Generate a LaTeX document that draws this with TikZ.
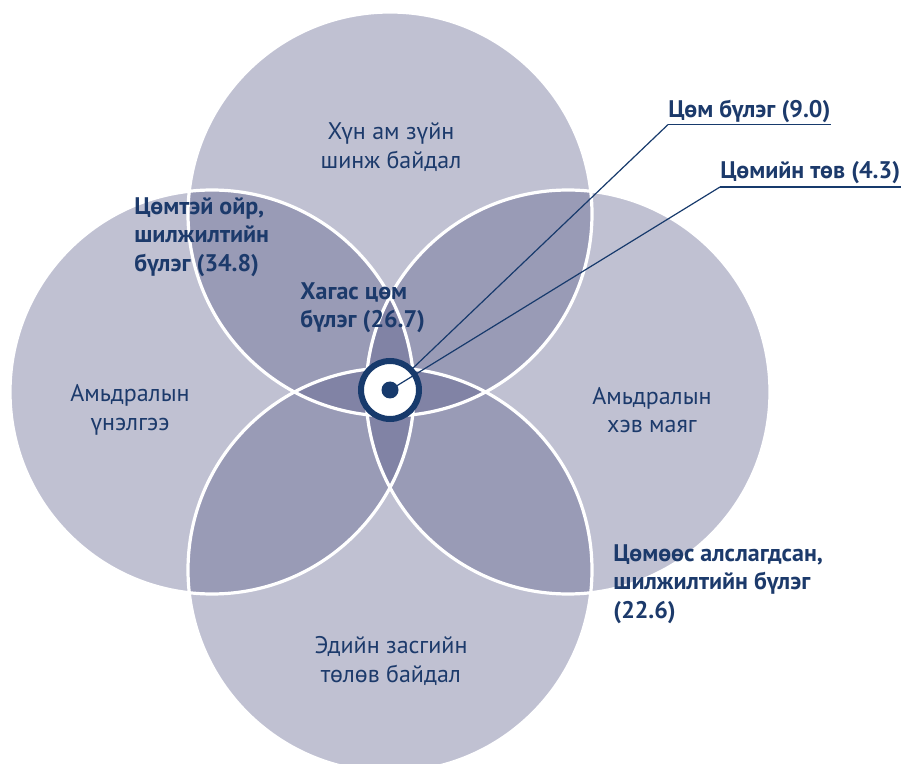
\documentclass[tikz,border=0pt]{standalone}
\usepackage{fontspec}
\setmainfont{PT Sans}
\usetikzlibrary{positioning}
\definecolor{SetFill}{HTML}{595C89}
\definecolor{NavyText}{HTML}{1C3A6B}
\definecolor{NavyMark}{HTML}{173A6C}
\tikzset{
  setdisc/.style={fill=SetFill, fill opacity=0.38},
  setedge/.style={draw=white, line width=1.6pt},
  setlabel/.style={text=NavyText, align=center, inner sep=0pt,
    font=\fontsize{12}{14.3}\selectfont},
  grouplabel/.style={text=NavyText, align=left, inner sep=0pt,
    font=\fontsize{12}{14.3}\selectfont\bfseries},
  leader/.style={draw=NavyMark, line width=0.6pt},
}

\begin{document}
\begin{tikzpicture}[x=0.5pt, y=0.5pt]

  \useasboundingbox (0,0) rectangle (915,-764);

  % Four domains
  \coordinate (ctop)    at (390,-214);
  \coordinate (cleft)   at (212,-392);
  \coordinate (cright)  at (568,-392);
  \coordinate (cbottom) at (390,-570);

  \foreach \c in {ctop, cleft, cright, cbottom}
    \fill[setdisc] (\c) circle (202);
  \foreach \c in {ctop, cleft, cright, cbottom}
    \draw[setedge] (\c) circle (202);

  % Domain names
  \node[setlabel] (demog)  at (391,-147) {Хүн ам зүйн\\шинж байдал};
  \node[setlabel] (apprs)  at (130,-410) {Амьдралын\\үнэлгээ};
  \node[setlabel] (lifest) at (652,-410) {Амьдралын\\хэв маяг};
  \node[setlabel] (econ)   at (391,-661) {Эдийн засгийн\\төлөв байдал};

  % Groups
  \node[grouplabel, anchor=north west] (near) at (134,-197)
    {Цөмтэй ойр,\\шилжилтийн\\бүлэг (34.8)};
  \node[grouplabel, anchor=north west] (semi) at (300,-282)
    {Хагас цөм\\бүлэг (26.7)};
  \node[grouplabel, anchor=north west] (far) at (613,-544)
    {Цөмөөс алслагдсан,\\шилжилтийн бүлэг\\(22.6)};

  % Core marker
  \node[circle, draw=NavyMark, line width=3pt, fill=white,
    minimum size=29pt, inner sep=0pt] (core) at (390,-390) {};
  \node[circle, fill=NavyMark, minimum size=8.5pt, inner sep=0pt]
    (coredot) at (core.center) {};

  % Core callouts
  \node[grouplabel, anchor=base west] (corelbl) at (668,-118)
    {Цөм бүлэг (9.0)};
  \node[grouplabel, anchor=base west] (ctrlbl) at (720,-179)
    {Цөмийн төв (4.3)};

  \draw[leader] ([yshift=-3.3pt]corelbl.base west)
    -- ([yshift=-3.3pt]corelbl.base east);
  \draw[leader] ([yshift=-3.3pt]corelbl.base west) -- (core);
  \draw[leader] ([yshift=-4pt]ctrlbl.base west)
    -- ([yshift=-4pt]ctrlbl.base east);
  \draw[leader] ([yshift=-4pt]ctrlbl.base west) -- (coredot.center);

\end{tikzpicture}
\end{document}
